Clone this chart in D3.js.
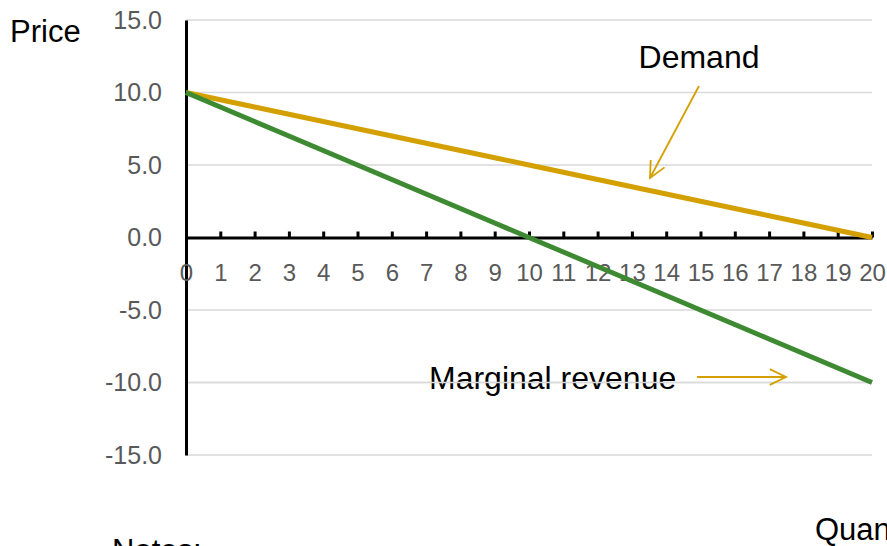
<!DOCTYPE html>
<html><head><meta charset="utf-8">
<script src="https://cdn.jsdelivr.net/npm/d3@7"></script>
<style>body{margin:0;background:#fff;overflow:hidden}svg{display:block;font-family:"Liberation Sans",Arial,sans-serif}</style>
</head><body>
<svg id="c" width="887" height="546"></svg>
<script>
const quantity = [0,1,2,3,4,5,6,7,8,9,10,11,12,13,14,15,16,17,18,19,20];
const demand = [10,9.5,9,8.5,8,7.5,7,6.5,6,5.5,5,4.5,4,3.5,3,2.5,2,1.5,1,0.5,0];
const marginalRevenue = [10,9,8,7,6,5,4,3,2,1,0,-1,-2,-3,-4,-5,-6,-7,-8,-9,-10];
const yTicks = [15,10,5,0,-5,-10,-15];

const svg = d3.select("#c");
const x = d3.scaleLinear().domain([0,20]).range([186,872]);
const y = d3.scaleLinear().domain([-15,15]).range([455,20]);
const FONT = "Liberation Sans, Arial, sans-serif";

// gridlines
svg.append("g").selectAll("line").data(yTicks.filter(d=>d!==0)).join("line")
  .attr("x1",x(0)).attr("x2",x(20)).attr("y1",d=>y(d)).attr("y2",d=>y(d))
  .attr("stroke","#d9d9d9").attr("stroke-width",1.5);

// annotation text behind gridline
svg.append("text").attr("x",429).attr("y",389).attr("font-size",32).attr("fill","#000").text("Marginal revenue");
svg.append("line").attr("x1",x(0)).attr("x2",x(20)).attr("y1",y(-10)).attr("y2",y(-10)).attr("stroke","#d9d9d9").attr("stroke-width",1.5);

// y axis
const yAxis = d3.axisLeft(y).tickValues(yTicks).tickFormat(d=>d.toFixed(1)).tickSize(0).tickPadding(24);
const gy = svg.append("g").attr("transform",`translate(${x(0)},0)`).call(yAxis);
gy.select(".domain").attr("stroke","#000").attr("stroke-width",3);
gy.selectAll("text").attr("font-size",25).attr("fill","#595959").attr("font-family",FONT);

// x axis at y=0
const xAxis = d3.axisBottom(x).tickValues(quantity).tickFormat(d3.format("d")).tickSizeInner(-6).tickSizeOuter(0).tickPadding(26);
const gx = svg.append("g").attr("transform",`translate(0,${y(0)})`).call(xAxis);
gx.select(".domain").attr("stroke","#000").attr("stroke-width",3);
gx.selectAll(".tick line").attr("stroke","#000").attr("stroke-width",3);
gx.selectAll(".tick").filter(d=>d===0).select("line").remove();
gx.selectAll("text").attr("font-size",24).attr("fill","#595959").attr("font-family",FONT);

// lines
const line = vals => d3.line().x((d,i)=>x(quantity[i])).y(d=>y(d))(vals);
svg.append("path").attr("d",line(demand)).attr("fill","none").attr("stroke","#d4a000").attr("stroke-width",5);
svg.append("path").attr("d",line(marginalRevenue)).attr("fill","none").attr("stroke","#3d8a32").attr("stroke-width",5);

// labels
svg.append("text").attr("x",10).attr("y",42).attr("font-size",31).attr("fill","#000").text("Price");
svg.append("text").attr("x",815).attr("y",540).attr("font-size",31).attr("fill","#000").text("Quantity");
svg.append("text").attr("x",112).attr("y",561).attr("font-size",31).attr("fill","#000").text("Notes:");

// annotations
svg.append("text").attr("x",699).attr("y",68).attr("text-anchor","middle").attr("font-size",32).attr("fill","#000").text("Demand");
const arrowColor = "#d4a000";
function arrow(x1,y1,x2,y2){
  svg.append("line").attr("x1",x1).attr("y1",y1).attr("x2",x2).attr("y2",y2).attr("stroke",arrowColor).attr("stroke-width",1.8);
  const a = Math.atan2(y2-y1,x2-x1), L=18, w=0.45;
  const p1=[x2-L*Math.cos(a-w), y2-L*Math.sin(a-w)], p2=[x2-L*Math.cos(a+w), y2-L*Math.sin(a+w)];
  svg.append("path").attr("d",`M${p1}L${x2},${y2}L${p2}`).attr("fill","none").attr("stroke",arrowColor).attr("stroke-width",1.8);
}
arrow(699,86,650,178);
arrow(697,377,786,377);
</script>
</body></html>
